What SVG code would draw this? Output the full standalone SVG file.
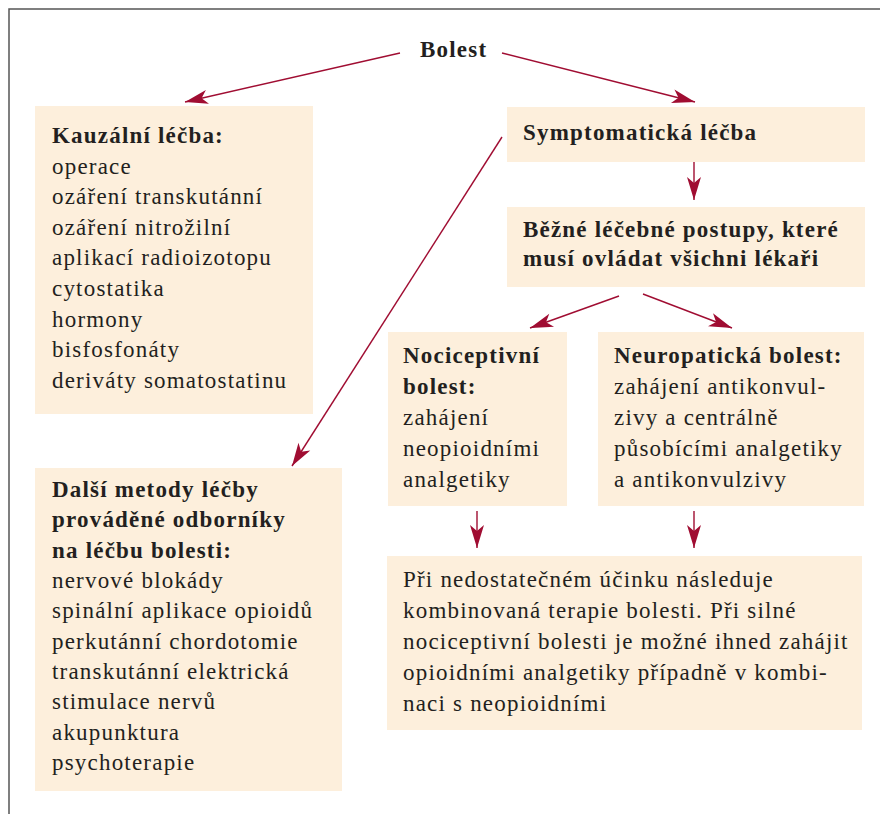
<svg xmlns="http://www.w3.org/2000/svg" width="880" height="814" viewBox="0 0 880 814">
<defs>
<style>
.box{fill:#fdefdc}
text{font-family:"Liberation Serif","Times New Roman",serif;font-size:23px;fill:#231f20;letter-spacing:1.2px}
.b{font-weight:bold}
.c{stroke:#a00d32;stroke-width:1.4;fill:none;marker-end:url(#ah)}
</style>
<marker id="ah" markerUnits="userSpaceOnUse" viewBox="-24 -8 25 16" refX="0" refY="0" markerWidth="25" markerHeight="16" orient="auto">
<path d="M0,0 L-23,-7 L-17,0 L-23,7 Z" fill="#a00d32"/>
</marker>
</defs>
<rect width="880" height="814" fill="#ffffff"/>
<path d="M9,814 L9,9 L880,9" fill="none" stroke="#555" stroke-width="1.5"/>

<g id="bolest"><text class="b" x="420" y="57">Bolest</text></g>

<g id="kauzalni">
<rect class="box" x="35" y="106" width="278" height="308"/>
<text class="b" x="52" y="143">Kauzální léčba:</text>
<text x="52" y="173.6">operace</text>
<text x="52" y="204.2">ozáření transkutánní</text>
<text x="52" y="234.8">ozáření nitrožilní</text>
<text x="52" y="265.4">aplikací radioizotopu</text>
<text x="52" y="296">cytostatika</text>
<text x="52" y="326.6">hormony</text>
<text x="52" y="357.2">bisfosfonáty</text>
<text x="52" y="387.8">deriváty somatostatinu</text>
</g>

<g id="dalsi">
<rect class="box" x="35" y="468" width="307" height="323"/>
<text class="b" x="52" y="497">Další metody léčby</text>
<text class="b" x="52" y="527.3">prováděné odborníky</text>
<text class="b" x="52" y="557.6">na léčbu bolesti:</text>
<text x="52" y="588">nervové blokády</text>
<text x="52" y="618.3">spinální aplikace opioidů</text>
<text x="52" y="648.6">perkutánní chordotomie</text>
<text x="52" y="679">transkutánní elektrická</text>
<text x="52" y="709.3">stimulace nervů</text>
<text x="52" y="739.6">akupunktura</text>
<text x="52" y="770">psychoterapie</text>
</g>

<g id="symptomaticka">
<rect class="box" x="507" y="107" width="358" height="55"/>
<text class="b" x="523" y="140">Symptomatická léčba</text>
</g>

<g id="bezne">
<rect class="box" x="507" y="207" width="358" height="80"/>
<text class="b" x="523" y="237">Běžné léčebné postupy, které</text>
<text class="b" x="523" y="266">musí ovládat všichni lékaři</text>
</g>

<g id="nociceptivni">
<rect class="box" x="388" y="332" width="179" height="174"/>
<text class="b" x="403" y="363">Nociceptivní</text>
<text class="b" x="403" y="394">bolest:</text>
<text x="403" y="425">zahájení</text>
<text x="403" y="456">neopioidními</text>
<text x="403" y="487">analgetiky</text>
</g>

<g id="neuropaticka">
<rect class="box" x="598" y="332" width="266" height="174"/>
<text class="b" x="614" y="363">Neuropatická bolest:</text>
<text x="614" y="394">zahájení antikonvul-</text>
<text x="614" y="425">zivy a centrálně</text>
<text x="614" y="456">působícími analgetiky</text>
<text x="614" y="487">a antikonvulzivy</text>
</g>

<g id="kombinovana">
<rect class="box" x="387" y="556" width="475" height="174"/>
<text x="403" y="587">Při nedostatečném účinku následuje</text>
<text x="403" y="618">kombinovaná terapie bolesti. Při silné</text>
<text x="403" y="649">nociceptivní bolesti je možné ihned zahájit</text>
<text x="403" y="680">opioidními analgetiky případně v kombi-</text>
<text x="403" y="711">naci s neopioidními</text>
</g>

<g id="connectors">
<line class="c" x1="400" y1="53" x2="185" y2="102"/>
<line class="c" x1="502" y1="53" x2="695" y2="102"/>
<line class="c" x1="502" y1="137" x2="292" y2="466"/>
<line class="c" x1="694" y1="162" x2="694" y2="200"/>
<line class="c" x1="619" y1="296" x2="530" y2="328"/>
<line class="c" x1="643" y1="294" x2="732" y2="328"/>
<line class="c" x1="477" y1="511" x2="477" y2="548"/>
<line class="c" x1="694" y1="511" x2="694" y2="548"/>
</g>
</svg>
